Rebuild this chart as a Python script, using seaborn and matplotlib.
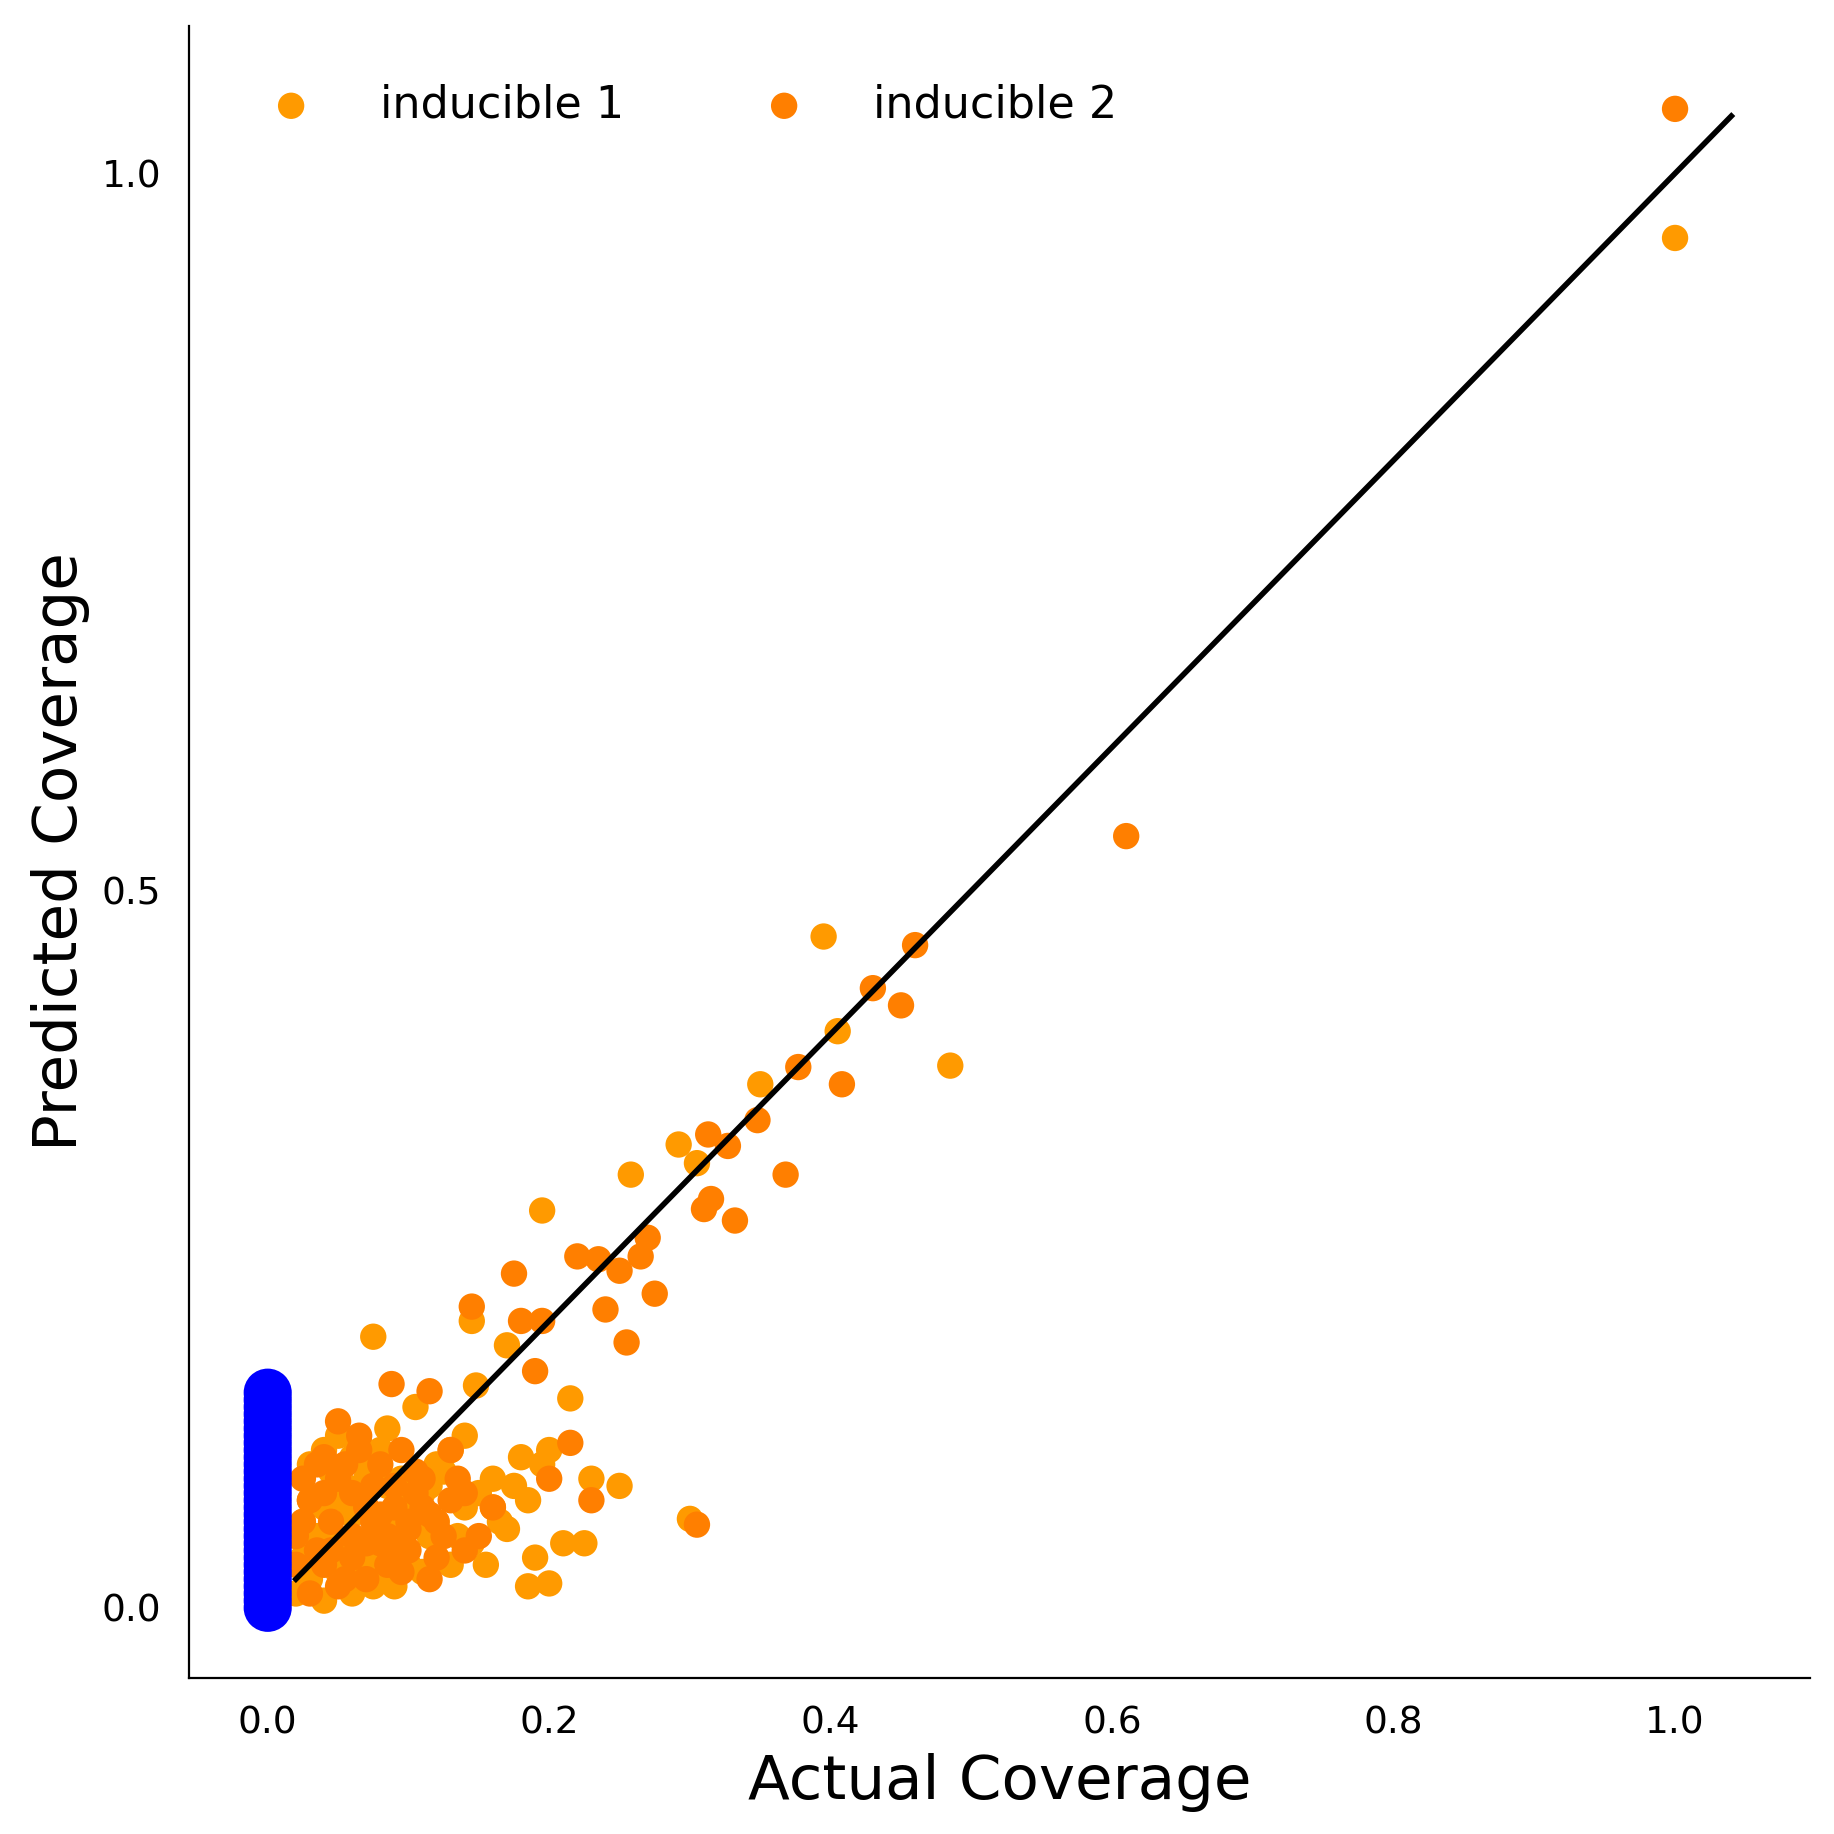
import matplotlib
matplotlib.use("Agg")
import matplotlib.pyplot as plt
import seaborn as sns
import pandas as pd

ind1_x = [1.0, 0.395, 0.485, 0.35, 0.405, 0.292, 0.258, 0.305, 0.195, 0.075, 0.17, 0.145, 0.215, 0.185, 0.2,
          0.3, 0.25, 0.23, 0.148, 0.16, 0.21, 0.225, 0.18, 0.195, 0.13, 0.14, 0.12, 0.175, 0.155, 0.19,
          0.03, 0.05, 0.07, 0.09, 0.11, 0.06, 0.08, 0.1, 0.04, 0.12, 0.135, 0.165, 0.095, 0.065, 0.045,
          0.035, 0.055, 0.085, 0.105, 0.125, 0.15, 0.17, 0.2, 0.025, 0.075, 0.115, 0.06, 0.14, 0.185, 0.09,
          0.02, 0.03, 0.04, 0.05, 0.06, 0.07, 0.08, 0.09, 0.1, 0.11, 0.045, 0.055, 0.065, 0.075, 0.085,
          0.025, 0.035, 0.095, 0.105, 0.115, 0.13, 0.145, 0.16, 0.06, 0.08, 0.07, 0.05, 0.04, 0.03, 0.1]
ind1_y = [0.955, 0.468, 0.378, 0.365, 0.402, 0.323, 0.302, 0.31, 0.277, 0.189, 0.183, 0.2, 0.146, 0.015, 0.017,
          0.062, 0.085, 0.09, 0.155, 0.09, 0.045, 0.045, 0.105, 0.1, 0.11, 0.07, 0.06, 0.085, 0.03, 0.035,
          0.1, 0.12, 0.09, 0.06, 0.08, 0.04, 0.11, 0.03, 0.07, 0.1, 0.05, 0.06, 0.09, 0.02, 0.05,
          0.03, 0.085, 0.125, 0.14, 0.095, 0.08, 0.055, 0.11, 0.06, 0.015, 0.05, 0.105, 0.12, 0.075, 0.025,
          0.01, 0.02, 0.005, 0.04, 0.065, 0.035, 0.055, 0.015, 0.07, 0.025, 0.095, 0.075, 0.115, 0.045, 0.085,
          0.035, 0.05, 0.04, 0.065, 0.085, 0.03, 0.045, 0.07, 0.01, 0.02, 0.1, 0.025, 0.11, 0.075, 0.055]
ind2_x = [1.0, 0.61, 0.46, 0.43, 0.45, 0.377, 0.408, 0.348, 0.313, 0.327, 0.368, 0.315, 0.31, 0.332, 0.27,
          0.265, 0.22, 0.235, 0.175, 0.25, 0.275, 0.24, 0.145, 0.18, 0.195, 0.255, 0.19, 0.088, 0.115, 0.305,
          0.02, 0.03, 0.04, 0.05, 0.06, 0.07, 0.08, 0.09, 0.1, 0.11, 0.12, 0.13, 0.14, 0.15, 0.16,
          0.025, 0.035, 0.045, 0.055, 0.065, 0.075, 0.085, 0.095, 0.105, 0.115, 0.125, 0.135, 0.2, 0.23, 0.215,
          0.02, 0.03, 0.04, 0.05, 0.06, 0.07, 0.08, 0.09, 0.1, 0.11, 0.12, 0.045, 0.055, 0.065, 0.075,
          0.085, 0.095, 0.105, 0.025, 0.035, 0.06, 0.07, 0.08, 0.09, 0.05, 0.04, 0.1, 0.13, 0.14, 0.115]
ind2_y = [1.045, 0.538, 0.462, 0.432, 0.42, 0.377, 0.365, 0.34, 0.33, 0.322, 0.302, 0.285, 0.278, 0.27, 0.258,
          0.245, 0.245, 0.243, 0.233, 0.235, 0.219, 0.208, 0.21, 0.2, 0.2, 0.185, 0.165, 0.156, 0.151, 0.058,
          0.03, 0.01, 0.08, 0.13, 0.05, 0.02, 0.1, 0.07, 0.04, 0.09, 0.06, 0.11, 0.08, 0.05, 0.07,
          0.06, 0.1, 0.04, 0.02, 0.12, 0.06, 0.03, 0.11, 0.08, 0.02, 0.05, 0.09, 0.09, 0.075, 0.115,
          0.05, 0.075, 0.03, 0.09, 0.08, 0.045, 0.065, 0.04, 0.055, 0.07, 0.035, 0.06, 0.1, 0.11, 0.085,
          0.05, 0.025, 0.095, 0.09, 0.04, 0.035, 0.07, 0.045, 0.085, 0.015, 0.105, 0.06, 0.075, 0.04, 0.065]
base_y = [0.0, 0.005, 0.01, 0.015, 0.02, 0.025, 0.03, 0.035, 0.04, 0.045, 0.05, 0.055, 0.06, 0.065, 0.07,
          0.075, 0.08, 0.085, 0.09, 0.095, 0.1, 0.105, 0.11, 0.115, 0.12, 0.125, 0.13, 0.135, 0.14, 0.145, 0.15]
base_x = [0.0] * len(base_y)

fig = plt.figure(figsize=(9.17, 9.17), dpi=200)
ax = fig.add_axes([0.103, 0.085, 0.884, 0.901])
d1 = pd.DataFrame({"x": ind1_x, "y": ind1_y})
d2 = pd.DataFrame({"x": ind2_x, "y": ind2_y})
db = pd.DataFrame({"x": base_x, "y": base_y})
sns.scatterplot(data=d1, x="x", y="y", ax=ax, color="#FF9A00", s=90, edgecolor="none", label="inducible 1", zorder=2)
sns.scatterplot(data=d2, x="x", y="y", ax=ax, color="#FF7F00", s=90, edgecolor="none", label="inducible 2", zorder=2)
sns.scatterplot(data=db, x="x", y="y", ax=ax, color="#0000FF", s=300, edgecolor="none", zorder=3, legend=False)
ax.plot([0.02, 1.04], [0.02, 1.04], color="black", lw=2, zorder=4)
ax.set_xlim(-0.056, 1.096)
ax.set_ylim(-0.049, 1.103)
ax.set_xticks([0, 0.2, 0.4, 0.6, 0.8, 1.0])
ax.set_yticks([0, 0.5, 1.0])
ax.tick_params(labelsize=13.5, length=0, pad=10)
ax.set_xlabel("Actual Coverage", fontsize=22)
ax.set_ylabel("Predicted Coverage", fontsize=22)
for s in ["top", "right"]:
    ax.spines[s].set_visible(False)
ax.legend(loc="upper left", ncol=2, frameon=False, fontsize=16, columnspacing=2.6,
          handletextpad=1.0, borderaxespad=0.5, borderpad=0.8)
fig.savefig("out.png", dpi=200)
